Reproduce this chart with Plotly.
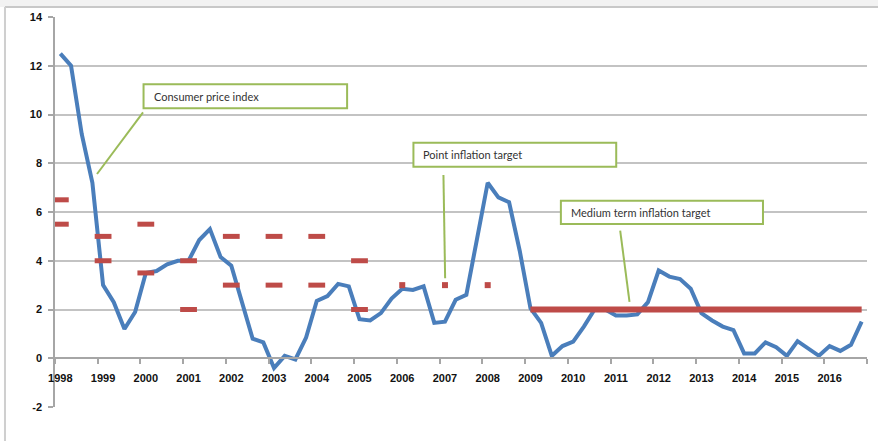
import plotly.graph_objects as go

# Quarterly CPI inflation, 1998Q1 - 2016Q4 (% y/y)
cpi = [12.5, 12.0, 9.2, 7.2,
       3.0, 2.3, 1.2, 1.9,
       3.5, 3.58, 3.85, 4.0,
       4.0, 4.85, 5.3, 4.15,
       3.8, 2.3, 0.8, 0.65,
       -0.4, 0.1, -0.05, 0.85,
       2.35, 2.55, 3.05, 2.95,
       1.6, 1.55, 1.85, 2.45,
       2.85, 2.8, 2.95, 1.45,
       1.5, 2.4, 2.6, 4.9,
       7.2, 6.6, 6.4, 4.4,
       2.05, 1.45, 0.1, 0.5,
       0.68, 1.3, 2.0, 2.0,
       1.75, 1.75, 1.8, 2.3,
       3.6, 3.35, 3.25, 2.85,
       1.85, 1.55, 1.3, 1.15,
       0.2, 0.2, 0.65, 0.45,
       0.1, 0.7, 0.4, 0.1,
       0.5, 0.3, 0.55, 1.5]
start_year = 1998
quarters = [start_year + i / 4 for i in range(len(cpi))]

# Inflation target bands set for each year (upper / lower bound)
band_years = [1998, 1999, 2000, 2001, 2002, 2003, 2004, 2005]
band_upper = [6.5, 5.0, 5.5, 4.0, 5.0, 5.0, 5.0, 4.0]
band_lower = [5.5, 4.0, 3.5, 2.0, 3.0, 3.0, 3.0, 2.0]

# Point inflation targets
point_years = [2006, 2007, 2008]
point_target = [3.0, 3.0, 3.0]

# Medium term target from 2009 onwards
medium_from = 2009
medium_target = 2.0
medium_x = [q for q in quarters if q >= medium_from]
medium_y = [medium_target] * len(medium_x)

year_ticks = list(range(1998, 2017))
y_ticks = list(range(-2, 15, 2))

BLUE = "#4A7EBB"
RED = "#BE4B48"
GREEN = "#9BBB59"
GRID = "#C3C3C3"
AXIS = "#A6A6A6"

fig = go.Figure()

fig.add_trace(go.Scatter(
    x=quarters, y=cpi, mode="lines",
    line=dict(color=BLUE, width=4), name="Consumer price index",
))

for vals in (band_upper, band_lower):
    fig.add_trace(go.Scatter(
        x=band_years, y=vals, mode="markers",
        marker=dict(symbol="line-ew", size=12, color=RED,
                    line=dict(color=RED, width=5)),
        name="Inflation target band",
    ))

fig.add_trace(go.Scatter(
    x=point_years, y=point_target, mode="markers",
    marker=dict(symbol="square", size=6, color=RED, line=dict(width=0)),
    name="Point inflation target",
))

fig.add_trace(go.Scatter(
    x=medium_x, y=medium_y, mode="lines",
    line=dict(color=RED, width=6), name="Medium term inflation target",
))

# Callout boxes: (label, x0, x1, y_bottom, y_top, pointer start, pointer end)
callouts = [
    ("Consumer price index", 1999.947, 2004.71, 10.26, 11.24,
     (1999.935, 10.09), (1998.858, 7.56)),
    ("Point inflation target", 2006.262, 2011.007, 7.86, 8.84,
     (2006.964, 7.52), (2007.004, 3.28)),
    ("Medium term inflation target", 2009.712, 2014.441, 5.51, 6.46,
     (2011.10, 5.24), (2011.318, 2.31)),
]
for text, x0, x1, yb, yt, p0, p1 in callouts:
    fig.add_shape(type="rect", x0=x0, x1=x1, y0=yb, y1=yt,
                  xref="x", yref="y", line=dict(color=GREEN, width=2),
                  fillcolor="white", layer="above")
    fig.add_shape(type="line", x0=p0[0], y0=p0[1], x1=p1[0], y1=p1[1],
                  xref="x", yref="y", line=dict(color=GREEN, width=2),
                  layer="above")
    fig.add_annotation(x=x0, y=(yb + yt) / 2, xref="x", yref="y",
                       text=text, showarrow=False, xanchor="left",
                       yanchor="middle", xshift=8,
                       font=dict(family="Lato", size=11, color="#333333"))

# Window frame around the chart
fig.add_shape(type="rect", xref="paper", yref="paper",
              x0=-0.07, x1=1.02, y0=1.0255, y1=1.05,
              fillcolor="#F2F2F2", line=dict(width=0), layer="below")
fig.add_shape(type="line", xref="paper", yref="paper",
              x0=-0.0616, x1=1.02, y0=1.0255, y1=1.0255,
              line=dict(color="#C8C8C8", width=2))
fig.add_shape(type="line", xref="paper", yref="paper",
              x0=-0.0616, x1=-0.0616, y0=1.0255, y1=-0.1,
              line=dict(color="#CFCFCF", width=2))

tick_font = dict(family="Liberation Sans", size=11, color="#111111",
                 weight="bold")

fig.update_layout(
    width=878, height=441,
    margin=dict(l=55, r=11, t=15, b=34),
    paper_bgcolor="white", plot_bgcolor="white",
    showlegend=False,
    xaxis=dict(
        range=[start_year - 0.125, 2016.875],
        tickmode="array", tickvals=year_ticks,
        ticktext=[str(y) for y in year_ticks],
        ticks="", showgrid=False, zeroline=False,
        showline=True, linecolor=AXIS, linewidth=1.5,
        anchor="free", position=2 / 16,
        ticklabelstandoff=10,
        tickfont=tick_font,
        minor=dict(tickmode="linear", tick0=start_year - 0.125, dtick=1,
                   ticks="outside", ticklen=5, tickcolor=AXIS,
                   tickwidth=1.5, showgrid=False),
    ),
    yaxis=dict(
        range=[-2, 14], tickmode="array", tickvals=y_ticks,
        ticktext=[str(v) for v in y_ticks],
        showgrid=True, gridcolor=GRID, gridwidth=1.5,
        zeroline=False, showline=True, linecolor=AXIS, linewidth=1.5,
        ticks="outside", ticklen=5, tickcolor=AXIS, tickwidth=1.5,
        ticklabelstandoff=4,
        tickfont=tick_font,
        domain=[0, 1],
    ),
)

fig.write_html("out.html")
